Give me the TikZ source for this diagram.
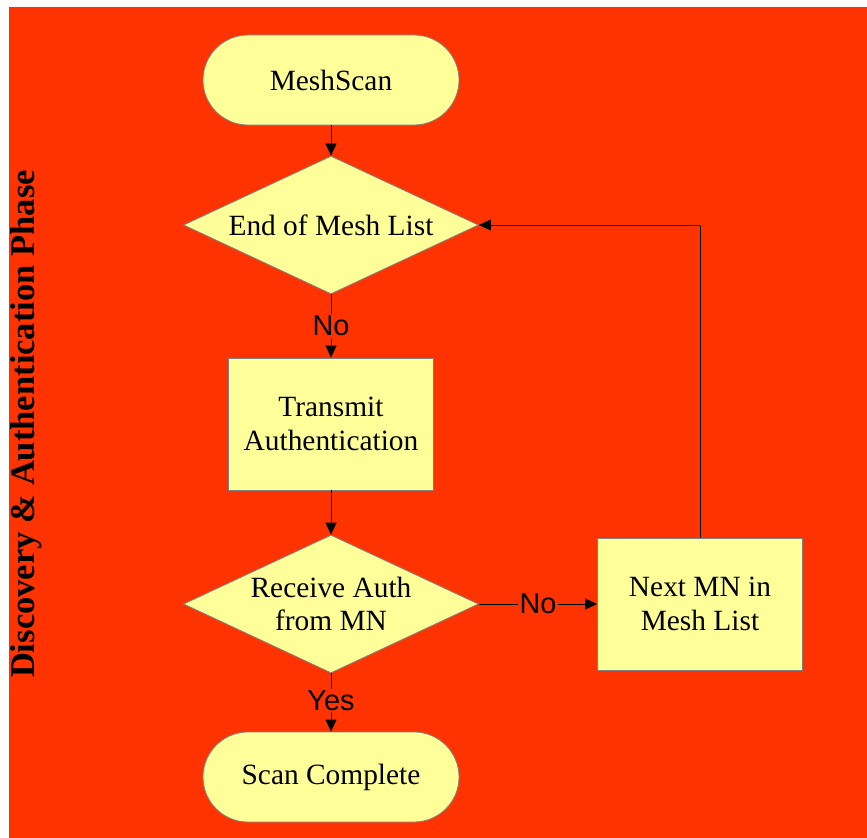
\documentclass[tikz,border=0pt]{standalone}
\usepackage{fontspec}
\setmainfont{Liberation Serif}
\newfontfamily\labelfont{Liberation Sans}
\usetikzlibrary{shapes.geometric,arrows.meta}
\definecolor{panelred}{HTML}{FF3300}
\definecolor{boxfill}{HTML}{FFFF99}
\definecolor{boxline}{HTML}{808080}
\begin{document}
\begin{tikzpicture}[x=1bp,y=-1bp,
  base/.style={fill=boxfill,draw=boxline,line width=0.8bp,align=center,
    font=\fontsize{29.5}{34}\selectfont,inner sep=0pt},
  terminal/.style={base,rectangle,rounded corners=45bp,minimum width=256bp,minimum height=90bp},
  process/.style={base,rectangle,minimum width=205bp,minimum height=132bp},
  decision/.style={base,diamond,minimum width=295bp,minimum height=138bp,shape aspect=2.14},
  flow/.style={line width=0.8bp,-{Triangle[length=12bp,width=11bp]}},
  answer/.style={fill=panelred,inner sep=1.5bp,font=\labelfont\fontsize{29}{33}\selectfont}]
  \useasboundingbox (0,0) rectangle (867,838);
  \fill[white] (0,0) rectangle (867,838);
  \fill[panelred] (9,7) rectangle (867,838);

  \node[rotate=90,font=\bfseries\fontsize{34.7}{40}\selectfont] (phase) at (26,424)
    {Discovery \& Authentication Phase};

  \node[terminal] (scan) at (331,80) {MeshScan};
  \node[decision] (endlist) at (331,225) {End of Mesh List};
  \node[process] (transmit) at (331,424) {Transmit\\Authentication};
  \node[decision] (receive) at (331,604) {Receive Auth\\from MN};
  \node[process] (next) at (700,604) {Next MN in\\Mesh List};
  \node[terminal] (done) at (331,777) {Scan Complete};

  \draw[flow] (scan) -- (endlist);
  \draw[flow] (endlist) -- node[answer] {No} (transmit);
  \draw[flow] (transmit) -- (receive);
  \draw[flow] (receive) -- node[answer,yshift=2bp] {Yes} (done);
  \draw[flow] (receive) -- node[answer] {No} (next);
  \draw[flow] (next.north) |- (endlist.east);
\end{tikzpicture}
\end{document}
